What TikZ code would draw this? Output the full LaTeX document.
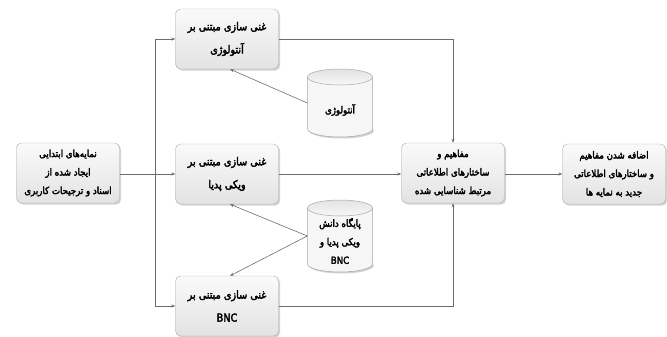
\documentclass[tikz,border=0pt]{standalone}
\usepackage{fontspec}
\usetikzlibrary{shapes.geometric,shadows,arrows.meta}
\TeXXeTstate=1
\newfontfamily\arabicfont[Script=Arabic,FakeBold=3,FakeStretch=0.88]{DejaVu Sans}
\newcommand{\fa}[1]{\beginR #1\endR}
\newcommand{\mycyl}[4]{% name, cx, cy, height
  \node[minimum width=65pt, minimum height=#4pt, inner sep=0pt] (#1) at (#2,#3) {};
  \pgfmathsetmacro{\yT}{#3-#4/2+8}
  \pgfmathsetmacro{\yB}{#3+#4/2-8}
  \fill[black, opacity=0.18] (#2-32.5+1.5,\yT+1.5) -- (#2-32.5+1.5,\yB+1.5)
     arc[start angle=180, end angle=0, x radius=32.5, y radius=8] -- cycle;
  \draw[cylline, fill=gray!7] (#2-32.5,\yT) -- (#2-32.5,\yB)
     arc[start angle=180, end angle=0, x radius=32.5, y radius=8] -- (#2+32.5,\yT);
  \draw[cylline, top color=gray!22, bottom color=gray!6] (#2,\yT) ellipse[x radius=32.5, y radius=8];
}
\tikzset{
  box/.style={draw=gray!65, rounded corners=5pt, top color=gray!4, bottom color=gray!22,
    minimum width=103pt, minimum height=60pt, align=center, inner sep=1pt,
    drop shadow={shadow xshift=1.6pt, shadow yshift=-1.6pt, opacity=0.35},
    font=\arabicfont\fontsize{11}{23}\selectfont},
  box3/.style={box, font=\arabicfont\fontsize{9.8}{18.5}\selectfont},
  cylline/.style={draw=gray!70, line width=0.5pt},
  cyltext/.style={font=\arabicfont\fontsize{9.8}{18.5}\selectfont, align=center},
  arr/.style={draw=gray!85!black, line width=0.6pt, -{Stealth[length=4pt,width=3pt]}},
  ln/.style={draw=gray!85!black, line width=0.6pt}
}
\begin{document}
\begin{tikzpicture}[x=1pt,y=-1pt]
\useasboundingbox (0,0) rectangle (667,337);
\node[box3] (L) at (68,173) {\fa{نمایه‌های ابتدایی}\\\fa{ایجاد شده از}\\\fa{اسناد و ترجیحات کاربری}};
\node[box] (T) at (227,39) {\fa{غنی سازی مبتنی بر}\\\fa{آنتولوژی}};
\node[box] (M) at (227,174) {\fa{غنی سازی مبتنی بر}\\\fa{ویکی پدیا}};
\node[box] (B) at (227,306) {\fa{غنی سازی مبتنی بر}\\BNC};
\mycyl{C1}{340}{103}{68}
\mycyl{C2}{340}{236}{72}
\node[cyltext] (C1t) at (340,110) {\fa{آنتولوژی}};
\node[cyltext] (C2t) at (340,241) {\fa{پایگاه دانش}\\\fa{ویکی پدیا و}\\BNC};
\node[box3] (MR) at (453,173) {\fa{مفاهیم و}\\\fa{ساختارهای اطلاعاتی}\\\fa{مرتبط شناسایی شده}};
\node[box3] (R) at (614,174) {\fa{اضافه شدن مفاهیم}\\\fa{و ساختارهای اطلاعاتی}\\\fa{جدید به نمایه ها}};
\coordinate (tr) at (155,174);
\draw[ln] (L.east |- tr) -- (tr);
\draw[arr] (tr) |- (T.west);
\draw[arr] (tr) -- (M.west);
\draw[arr] (tr) |- (B.west);
\draw[arr] (T.east) -| (MR.north);
\draw[arr] (M.east) -- (MR.west |- M.east);
\draw[arr] (B.east) -| (MR.south);
\draw[arr] (MR.east |- R.west) -- (R.west);
\draw[arr] (C1.west) -- ([xshift=3pt]T.south);
\draw[arr] (C2.west) -- ([xshift=3pt]M.south);
\draw[arr] (C2.west) -- ([xshift=3pt]B.north);
\end{tikzpicture}
\end{document}
